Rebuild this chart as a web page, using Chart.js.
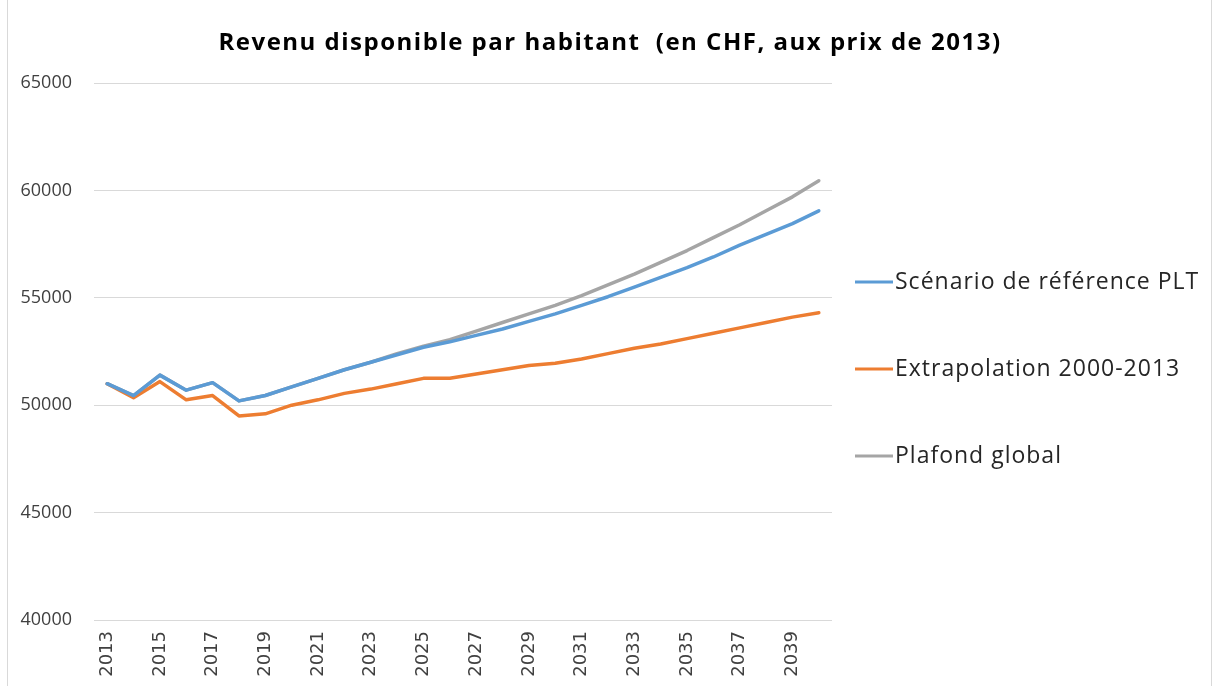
<!DOCTYPE html>
<html>
<head>
<meta charset="utf-8">
<script src="https://cdn.jsdelivr.net/npm/chart.js@4/dist/chart.umd.min.js"></script>
<style>
  html, body { margin: 0; padding: 0; background: #fff; }
  #wrap { width: 1218px; height: 686px; position: relative; }
</style>
</head>
<body>
<div id="wrap"><canvas id="chart" width="1218" height="686"></canvas></div>
<script>
// years on the x axis
const years = [2013, 2014, 2015, 2016, 2017, 2018, 2019, 2020, 2021, 2022, 2023, 2024, 2025, 2026,
  2027, 2028, 2029, 2030, 2031, 2032, 2033, 2034, 2035, 2036, 2037, 2038, 2039, 2040];

// Scénario de référence PLT
const scenarioRef = [51000, 50450, 51400, 50700, 51050, 50200, 50450, 50850, 51250, 51650, 52000, 52350, 52700, 52950,
  53250, 53550, 53900, 54250, 54650, 55050, 55500, 55950, 56400, 56900, 57450, 57950, 58450, 59050];

// Extrapolation 2000-2013
const extrapolation = [51000, 50350, 51100, 50250, 50450, 49500, 49600, 50000, 50250, 50550, 50750, 51000, 51250, 51250,
  51450, 51650, 51850, 51950, 52150, 52400, 52650, 52850, 53100, 53350, 53600, 53850, 54100, 54300];

// Plafond global
const plafond = [51000, 50450, 51400, 50700, 51050, 50200, 50450, 50850, 51250, 51650, 52000, 52400, 52750, 53050,
  53450, 53850, 54250, 54650, 55100, 55600, 56100, 56650, 57200, 57800, 58400, 59050, 59700, 60450];

const yTicks = [40000, 45000, 50000, 55000, 60000, 65000];

const seriesNames = ["Scénario de référence PLT", "Extrapolation 2000-2013", "Plafond global"];
const seriesColors = ["#5B9BD5", "#ED7D31", "#A5A5A5"];
const chartTitle = "Revenu disponible par habitant  (en CHF, aux prix de 2013)";

// title + legend drawn by hand, the legend sits on the right like the original
const sideLegend = {
  id: "sideLegend",
  afterDraw(chart) {
    const ctx = chart.ctx;
    const rows = [282, 369, 456];
    ctx.save();

    ctx.fillStyle = "#000";
    ctx.font = "bold 24px 'Open Sans'";
    ctx.letterSpacing = "1.5px";
    ctx.textAlign = "center";
    ctx.textBaseline = "middle";
    ctx.fillText(chartTitle, 610, 43);

    chart.data.datasets.forEach((ds, i) => {
      const y = rows[i];
      ctx.strokeStyle = ds.borderColor;
      ctx.lineWidth = 3;
      ctx.beginPath();
      ctx.moveTo(855, y);
      ctx.lineTo(893, y);
      ctx.stroke();
      ctx.fillStyle = "#262626";
      ctx.font = "23px 'Open Sans'";
      ctx.letterSpacing = "1px";
      ctx.textBaseline = "middle";
      ctx.textAlign = "left";
      ctx.fillText(ds.label, 895, y);
    });
    ctx.letterSpacing = "0px";

    // thin frame on the sides
    ctx.strokeStyle = "#d9d9d9";
    ctx.lineWidth = 1;
    ctx.beginPath();
    ctx.moveTo(7.5, 0);
    ctx.lineTo(7.5, 686);
    ctx.moveTo(1211.5, 0);
    ctx.lineTo(1211.5, 686);
    ctx.stroke();
    ctx.restore();
  }
};

const ctx = document.getElementById("chart").getContext("2d");
new Chart(ctx, {
  type: "line",
  data: {
    labels: years,
    datasets: [
      { label: seriesNames[0], data: scenarioRef, borderColor: seriesColors[0], backgroundColor: seriesColors[0] },
      { label: seriesNames[1], data: extrapolation, borderColor: seriesColors[1], backgroundColor: seriesColors[1] },
      { label: seriesNames[2], data: plafond, borderColor: seriesColors[2], backgroundColor: seriesColors[2] }
    ]
  },
  options: {
    responsive: false,
    animation: false,
    layout: { padding: { left: 0, right: 386, top: 83, bottom: 0 } },
    elements: {
      line: { borderWidth: 3.5, tension: 0, borderCapStyle: "round", borderJoinStyle: "round" },
      point: { radius: 0 }
    },
    plugins: {
      legend: { display: false },
      tooltip: { enabled: false },
      title: { display: false }
    },
    scales: {
      x: {
        type: "category",
        offset: true,
        grid: { display: false, drawTicks: false },
        border: { display: false },
        ticks: {
          autoSkip: false,
          maxRotation: 90,
          minRotation: 90,
          padding: 11,
          color: "#404040",
          font: { family: "DejaVu Sans", size: 18 },
          callback: function (value, index) {
            return index % 2 === 0 ? years[index] : "";
          }
        },
        afterFit(scale) { scale.height = 66; }
      },
      y: {
        min: yTicks[0],
        max: yTicks[yTicks.length - 1],
        afterBuildTicks(scale) { scale.ticks = yTicks.map(v => ({ value: v })); },
        grid: { color: "#d9d9d9", lineWidth: 1, drawTicks: false },
        border: { display: false },
        ticks: {
          padding: 22,
          color: "#404040",
          font: { family: "Open Sans", size: 18 },
          callback: function (value) { return String(value); }
        },
        afterFit(scale) { scale.width = 94; }
      }
    }
  },
  plugins: [sideLegend]
});
</script>
</body>
</html>
